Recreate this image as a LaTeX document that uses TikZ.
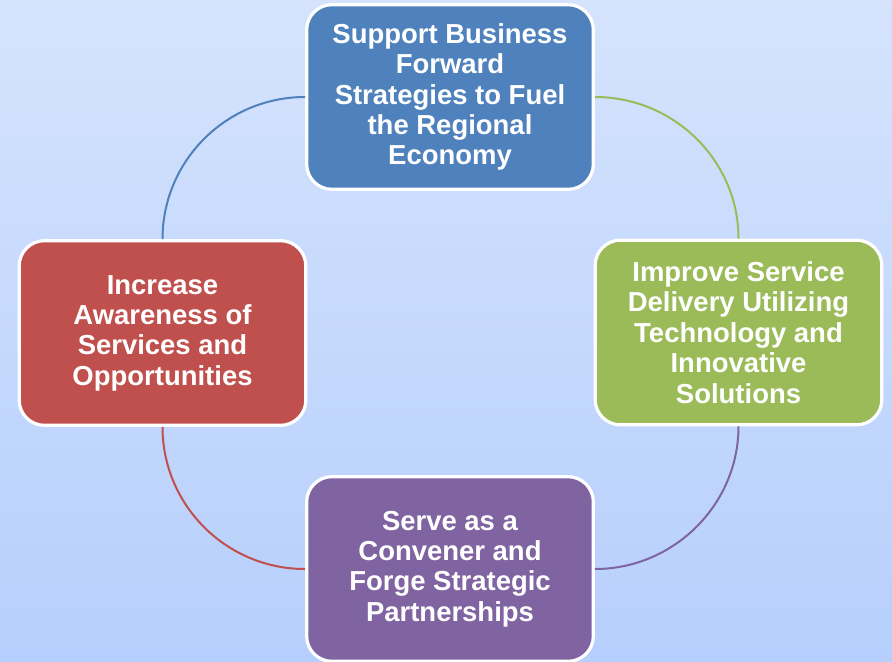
\documentclass[tikz,border=0pt]{standalone}
\usepackage{fontspec}
\setmainfont{Liberation Sans}
\usetikzlibrary{calc}

\definecolor{bgtop}{RGB}{213,227,253}
\definecolor{bgbot}{RGB}{182,207,252}
\definecolor{cblue}{RGB}{79,129,189}
\definecolor{cgreen}{RGB}{155,187,89}
\definecolor{cpurple}{RGB}{128,100,162}
\definecolor{cred}{RGB}{192,80,77}

\tikzset{
  goalbox/.style={
    draw=white, line width=2.4pt, rounded corners=19pt,
    minimum width=215pt, minimum height=138.5pt, inner sep=0pt,
    align=center, text=white,
    font=\fontsize{20.6pt}{22.8pt}\selectfont\bfseries
  },
  link/.style={line width=1.5pt}
}

\begin{document}
\begin{tikzpicture}[x=0.75pt, y=-0.75pt]
  % background
  \shade[top color=bgtop, bottom color=bgbot] (0,0) rectangle (892,661);
  \useasboundingbox (0,0) rectangle (892,661);

  % the four goals
  \node[goalbox, fill=cblue]   (top)    at (450,97)
    {Support Business\\Forward\\Strategies to Fuel\\the Regional\\Economy};
  \node[goalbox, fill=cgreen]  (right)  at (738.5,332.5)
    {Improve Service\\Delivery Utilizing\\Technology and\\Innovative\\Solutions};
  \node[goalbox, fill=cpurple] (bottom) at (450,569)
    {Serve as a\\Convener and\\Forge Strategic\\Partnerships};
  \node[goalbox, fill=cred]    (left)   at (162.5,333)
    {Increase\\Awareness of\\Services and\\Opportunities};

  % cycle arcs
  \draw[link, cblue]   (top.west)    .. controls +(-79,0) and +(0,-78) .. (left.north);
  \draw[link, cgreen]  (top.east)    .. controls +(79,0)  and +(0,-78) .. (right.north);
  \draw[link, cpurple] (right.south) .. controls +(0,78)  and +(79,0)  .. (bottom.east);
  \draw[link, cred]    (left.south)  .. controls +(0,78)  and +(-79,0) .. (bottom.west);
\end{tikzpicture}
\end{document}
